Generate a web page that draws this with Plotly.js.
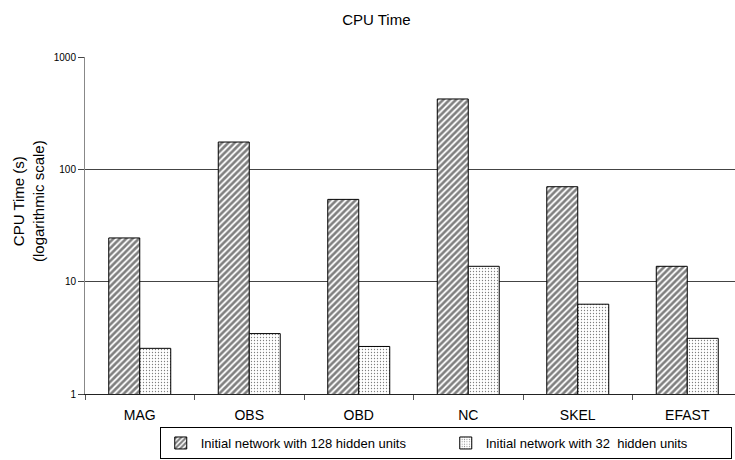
<!DOCTYPE html>
<html>
<head>
<meta charset="utf-8">
<script src="https://cdn.plot.ly/plotly-3.0.1.min.js"></script>
<style>html,body{margin:0;padding:0;background:#fff;}#chart{width:735px;height:460px;}</style>
</head>
<body>
<div id="chart"></div>
<script>
const categories = ["MAG", "OBS", "OBD", "NC", "SKEL", "EFAST"];
const series128 = [24.5, 175, 54, 423, 70, 13.7];
const series32 = [2.55, 3.45, 2.65, 13.7, 6.3, 3.13];
const seriesNames = ["Initial network with 128 hidden units", "Initial network with 32  hidden units"];
const yTickVals = [1, 10, 100, 1000];
const yTickText = ["1", "10", "100", "1000"];
const yTitle = "CPU Time (s)<br>(logarithmic scale)";

const font = "Liberation Sans, Arial, sans-serif";

const traces = [
  {
    type: "bar", x: categories, y: series128, name: seriesNames[0],
    marker: {
      color: "#ffffff",
      line: {color: "#000", width: 1},
      pattern: {shape: "/", fgcolor: "#000", bgcolor: "#fff", size: 4.5, solidity: 0.6, fillmode: "overlay"}
    }
  },
  {
    type: "bar", x: categories, y: series32, name: seriesNames[1],
    marker: {
      color: "#ffffff",
      line: {color: "#000", width: 1},
      pattern: {shape: ".", fgcolor: "#000", bgcolor: "#fff", size: 3, solidity: 0.15, fillmode: "overlay"}
    }
  }
];

const layout = {
  width: 735, height: 460,
  margin: {l: 85, r: 0, t: 57, b: 66, autoexpand: false},
  paper_bgcolor: "#fff", plot_bgcolor: "#fff",
  font: {family: font, color: "#000", size: 12},
  title: {text: "CPU Time", font: {family: font, size: 15, color: "#000"}, x: 0.512, xanchor: "center", y: 0.957, yanchor: "middle"},
  barmode: "group", bargap: 0.434, bargroupgap: 0,
  showlegend: true,
  legend: {
    orientation: "h", x: 0.555, xanchor: "center", y: -0.098, yanchor: "top",
    bordercolor: "#000", borderwidth: 1, font: {family: font, size: 13, color: "#000"},
    itemwidth: 30, tracegroupgap: 0, entrywidth: 240, entrywidthmode: "pixels"
  },
  xaxis: {
    type: "category", range: [-0.5, 5.436],
    showline: true, linecolor: "#222", linewidth: 1,
    ticks: "outside", tickson: "boundaries", ticklen: 5, tickcolor: "#555",
    ticklabelstandoff: 8,
    showgrid: false, tickfont: {family: font, size: 14, color: "#000"}, fixedrange: true
  },
  yaxis: {
    type: "log", range: [0, 3],
    tickvals: yTickVals, ticktext: yTickText,
    showline: true, linecolor: "#888", linewidth: 1,
    ticks: "outside", ticklen: 6, tickcolor: "#444",
    showgrid: true, gridcolor: "#444", gridwidth: 1,
    tickfont: {family: font, size: 10, color: "#000"},
    zeroline: false
  },
  annotations: [{
    text: yTitle, textangle: -90, showarrow: false,
    xref: "paper", yref: "paper", x: -0.086, y: 0.573, xanchor: "center", yanchor: "middle",
    font: {family: font, size: 15, color: "#000"}
  }]
};

Plotly.newPlot("chart", traces, layout, {displayModeBar: false, staticPlot: true});
</script>
</body>
</html>
